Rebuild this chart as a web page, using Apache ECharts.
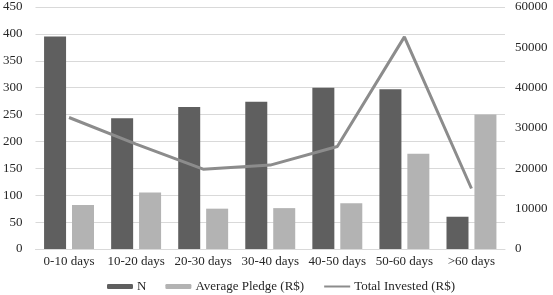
<!DOCTYPE html>
<html>
<head>
<meta charset="utf-8">
<script src="https://cdn.jsdelivr.net/npm/echarts@6/dist/echarts.min.js"></script>
<style>
    html, body { margin: 0; padding: 0; background: #fff; }
    #chart { width: 553px; height: 295px; }
</style>
</head>
<body>
<div id="chart"></div>
<script>
// 数据
const categories = ['0-10 days', '10-20 days', '20-30 days', '30-40 days', '40-50 days', '50-60 days', '>60 days'];
const countN = [395, 243, 264, 274, 300, 297, 60];
const avgPledge = [82, 105, 75, 76, 85, 177, 250];
const totalInvested = [32600, 26000, 19800, 20800, 25400, 52600, 15000];

const font = '"Liberation Serif", "Times New Roman", serif';
const textColor = '#262626';
const gridColor = '#d9d9d9';

function initChart() {
    const chart = echarts.init(document.getElementById('chart'));
    const option = {
        animation: false,
        textStyle: { fontFamily: font },
        grid: {
            top: 7,
            left: 33,
            right: 48,
            bottom: 46
        },
        legend: {
            top: 280,
            left: 107,
            padding: 0,
            itemWidth: 26,
            itemHeight: 5,
            itemGap: 19,
            textStyle: { fontFamily: font, fontSize: 13, color: textColor, padding: [0, 0, 0, -1] },
            data: ['N', 'Average Pledge (R$)', {
                name: 'Total Invested (R$)',
                itemStyle: { opacity: 0 }
            }]
        },
        xAxis: {
            type: 'category',
            data: categories,
            axisLine: { lineStyle: { color: gridColor } },
            axisTick: { show: false },
            axisLabel: { color: textColor, fontFamily: font, fontSize: 13, margin: 6, interval: 0 }
        },
        yAxis: [{
            type: 'value',
            min: 0,
            max: 450,
            interval: 50,
            axisLine: { show: false },
            axisTick: { show: false },
            axisLabel: { color: textColor, fontFamily: font, fontSize: 13, margin: 13 },
            splitLine: { lineStyle: { color: gridColor } }
        }, {
            type: 'value',
            min: 0,
            max: 60000,
            interval: 10000,
            axisLine: { show: false },
            axisTick: { show: false },
            axisLabel: {
                color: textColor,
                fontFamily: font,
                fontSize: 13,
                margin: 10,
                formatter: v => String(v)
            },
            splitLine: { show: false }
        }],
        series: [{
            name: 'N',
            type: 'bar',
            data: countN,
            barWidth: 22,
            barGap: '27%',
            itemStyle: { color: '#5f5f5f' }
        }, {
            name: 'Average Pledge (R$)',
            type: 'bar',
            data: avgPledge,
            barWidth: 22,
            itemStyle: { color: '#b3b3b3' }
        }, {
            name: 'Total Invested (R$)',
            type: 'line',
            yAxisIndex: 1,
            data: totalInvested,
            symbol: 'none',
            lineStyle: { color: '#8c8c8c', width: 3 },
            itemStyle: { color: '#8c8c8c' }
        }]
    };
    chart.setOption(option);
}

initChart();
</script>
</body>
</html>
